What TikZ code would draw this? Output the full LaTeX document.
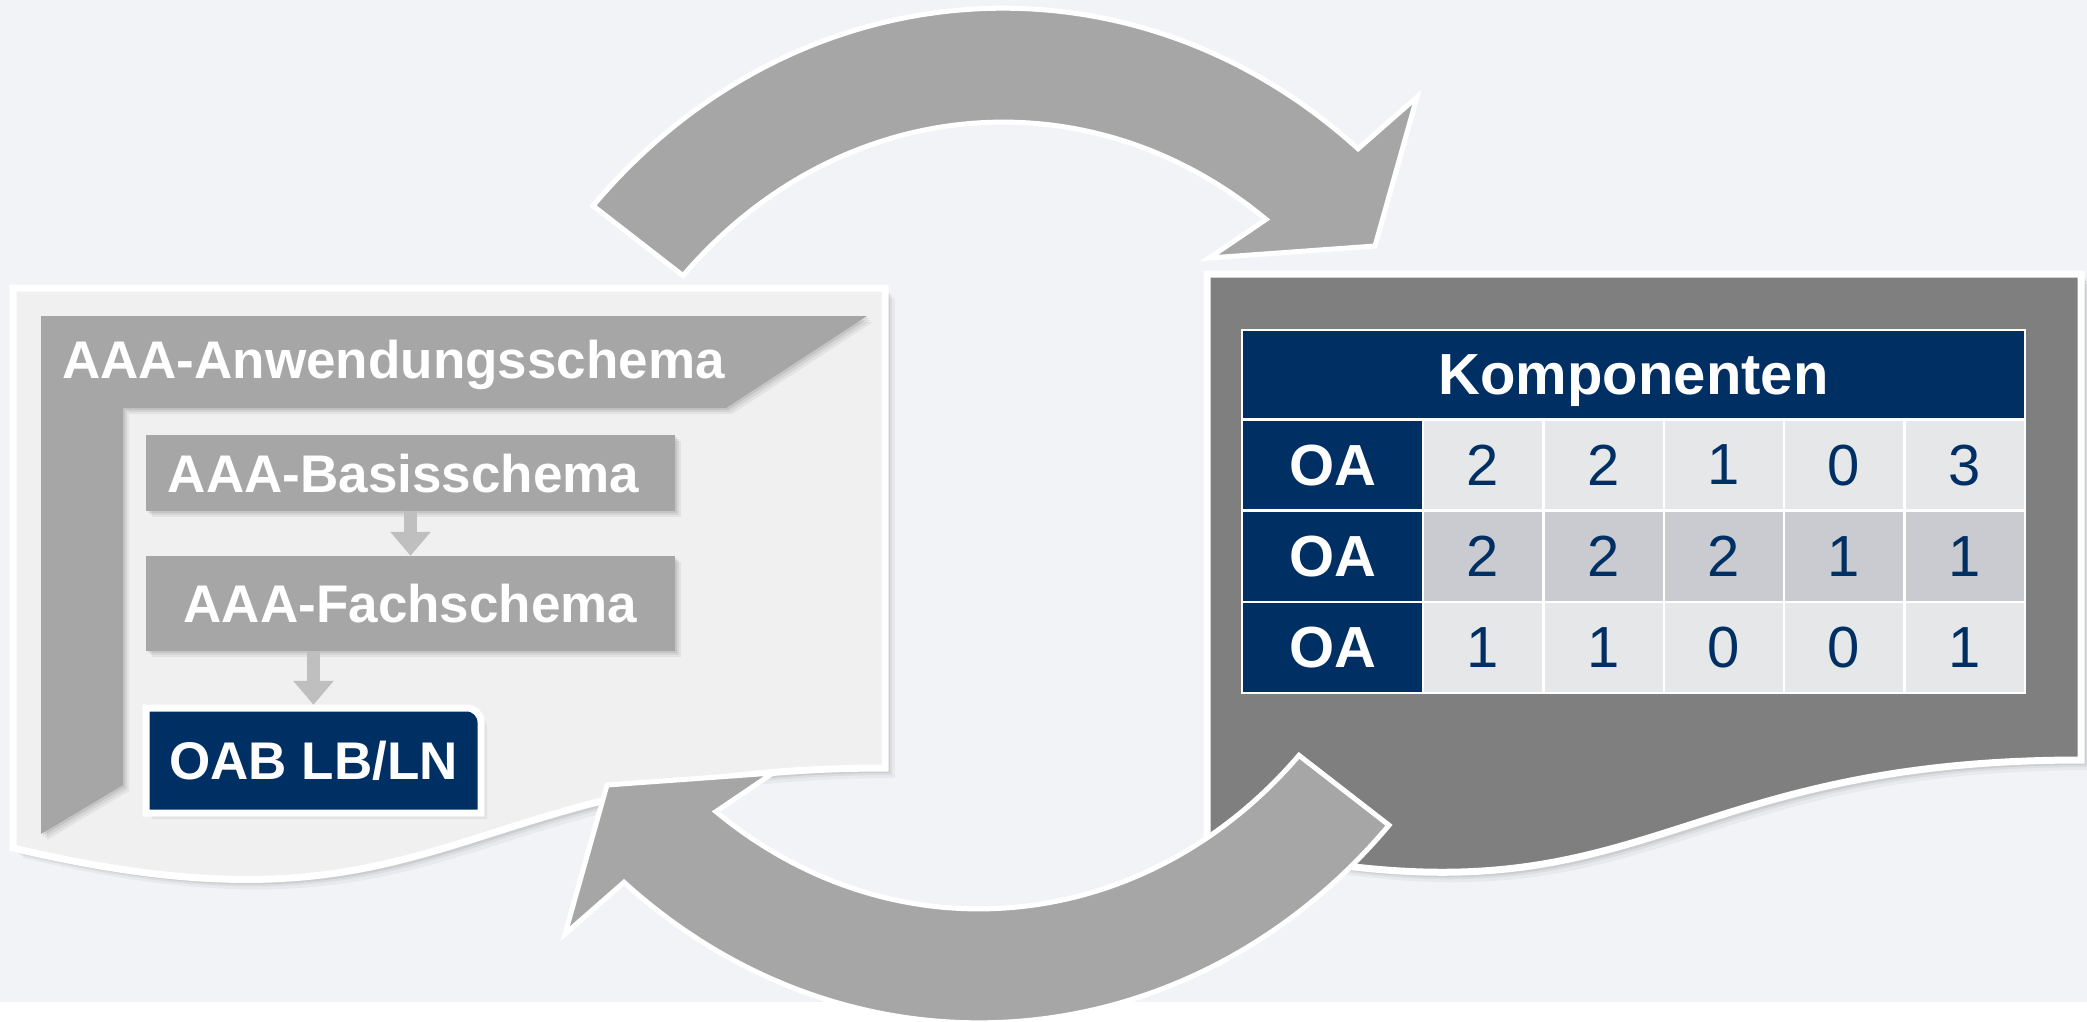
\documentclass[tikz,border=0pt]{standalone}
\usepackage{fontspec}
\setmainfont{Liberation Sans}
\usetikzlibrary{arrows.meta,shadows}
\definecolor{bgc}{HTML}{F2F3F7}
\definecolor{docl}{HTML}{F0F0F0}
\definecolor{docd}{HTML}{7F7F7F}
\definecolor{midg}{HTML}{A6A6A6}
\definecolor{lig}{HTML}{BFBFBF}
\definecolor{navy}{HTML}{003063}
\definecolor{cellA}{HTML}{E6E7E9}
\definecolor{cellB}{HTML}{CACBD0}
\tikzset{
  softshadow/.style={
    general shadow={shadow xshift=6pt, shadow yshift=-6pt, fill=black, opacity=0.05},
    general shadow={shadow xshift=4pt, shadow yshift=-4pt, fill=black, opacity=0.06},
    general shadow={shadow xshift=2pt, shadow yshift=-2pt, fill=black, opacity=0.08}},
  docshadow/.style={
    general shadow={shadow xshift=10pt, shadow yshift=-10pt, fill=black, opacity=0.04},
    general shadow={shadow xshift=7pt, shadow yshift=-7pt, fill=black, opacity=0.05},
    general shadow={shadow xshift=5pt, shadow yshift=-5pt, fill=black, opacity=0.07}},
  docshape/.style={draw=white, line width=7pt, line join=miter, docshadow},
  lbox/.style={rectangle, fill=midg, inner sep=0pt, text=white, font=\fontsize{53}{60}\selectfont\bfseries, text depth=0pt, softshadow},
  bigarrow/.style={fill=midg, draw=white, line width=5pt, line join=miter},
  smallarrow/.style={draw=lig, line width=13pt, -{Triangle[width=39pt,length=24pt]}},
  cell/.style={rectangle, draw=white, line width=2.5pt, inner sep=0pt, text depth=0pt, font=\fontsize{58}{64}\selectfont},
  numcell/.style={cell, text=navy, minimum width=120.5pt, minimum height=91pt},
  oacell/.style={cell, fill=navy, text=white, font=\fontsize{58}{64}\selectfont\bfseries, minimum width=181pt, minimum height=91pt},
  cyclearrow/.pic={
    \path[bigarrow] (593,-205.8)
      arc[start angle=137.06, end angle=50.65, x radius=560, y radius=620]
      -- (1417,-97) -- (1375,-246) -- (1209,-258) -- (1266,-219.4)
      arc[start angle=53.87, end angle=135.85, x radius=446, y radius=506]
      -- cycle;
  }
}
\begin{document}
\begin{tikzpicture}[x=1pt,y=1pt]
\useasboundingbox (0,0) rectangle (2087,-1021);
\fill[white] (0,0) rectangle (2087,-1021);
\fill[bgc] (0,0) rectangle (2087,-1002);

% left document
\path[docshape, fill=docl] (13,-288) -- (885,-288) -- (885,-768)
  .. controls (449,-768) and (449,-951) .. (13,-848) -- cycle;
\path[fill=midg, softshadow] (41,-316) -- (867,-316) -- (726,-408) -- (123,-408)
  -- (123,-785) -- (41,-834) -- cycle;
\node[anchor=base west, inner sep=0pt, text=white, font=\fontsize{53}{60}\selectfont\bfseries] (anw) at (62,-378) {AAA-Anwendungsschema};
\node[lbox, minimum width=529pt, minimum height=76pt] (basis) at (410.5,-473) {\hspace*{-14pt}AAA-Basisschema};
\node[lbox, minimum width=529pt, minimum height=95pt] (fach) at (410.5,-603.5) {AAA-Fachschema};
\path[fill=navy, draw=white, line width=7pt, softshadow] (146,-813) -- (146,-708) -- (467,-708)
  arc[start angle=90, end angle=0, radius=14] -- (481,-813) -- cycle;
\node[inner sep=0pt, minimum width=335pt, minimum height=105pt, text=white, text depth=0pt,
  font=\fontsize{53}{60}\selectfont\bfseries] (oab) at (313.5,-760.5) {OAB LB/LN};
\draw[smallarrow] (basis.south) -- (fach.north);
\draw[smallarrow] (oab.north |- fach.south) -- ([yshift=3pt]oab.north);

% right document
\path[docshape, fill=docd] (1207,-274) -- (2081,-274) -- (2081,-760)
  .. controls (1644,-760) and (1644,-945) .. (1207,-840) -- cycle;
\node[cell, fill=navy, text=white, font=\fontsize{58}{64}\selectfont\bfseries,
  minimum width=783pt, minimum height=89pt] (hdr) at (1633.5,-374.5) {Komponenten};
\foreach \row/\yy/\cc/\va/\vb/\vc/\vd/\ve in {1/-465/cellA/2/2/1/0/3, 2/-556.5/cellB/2/2/2/1/1, 3/-647.5/cellA/1/1/0/0/1}{
  \node[oacell] (oa\row) at (1332.5,\yy) {OA};
  \node[numcell, fill=\cc] (n\row a) at (1483,\yy) {\va};
  \node[numcell, fill=\cc] (n\row b) at (1603.5,\yy) {\vb};
  \node[numcell, fill=\cc] (n\row c) at (1724,\yy) {\vc};
  \node[numcell, fill=\cc] (n\row d) at (1844,\yy) {\vd};
  \node[numcell, fill=\cc] (n\row e) at (1964.5,\yy) {\ve};
}

% cycle arrows
\pic at (0,0) {cyclearrow};
\pic[rotate=180] at (1982,-1031) {cyclearrow};
\end{tikzpicture}
\end{document}
